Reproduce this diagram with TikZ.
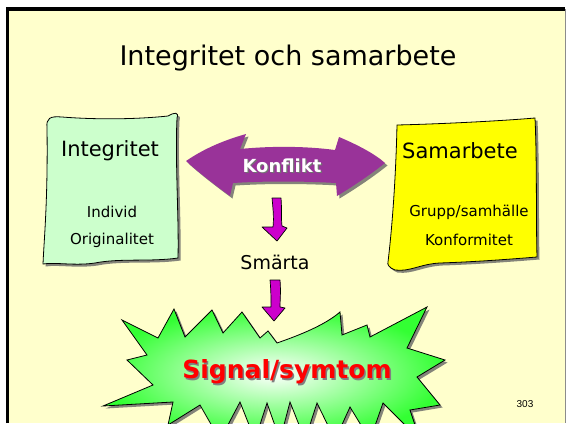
\documentclass[tikz,border=0pt]{standalone}
\usepackage{fontspec}
\setmainfont{DejaVu Sans}
\newfontfamily\pagefont{Liberation Sans}
\usetikzlibrary{positioning,shadows}

\definecolor{cream}{HTML}{FFFFCC}
\definecolor{mint}{HTML}{CCFFCC}
\definecolor{lemon}{HTML}{FFFF00}
\definecolor{plum}{HTML}{993399}
\definecolor{arrowpink}{HTML}{CC00CC}
\definecolor{burst}{HTML}{33FF33}

\begin{document}
\begin{tikzpicture}[x=1pt,y=-1pt,every node/.style={inner sep=0pt},
		paper/.style={draw=black,line width=0.8pt,drop shadow={shadow xshift=2.5pt,shadow yshift=-2.5pt,fill=black!60,opacity=0.8}},
		downarrow/.style={draw=black,line width=0.7pt,fill=arrowpink,line join=round},
		boxhead/.style={font=\fontsize{21}{24}\selectfont},
		boxtext/.style={font=\fontsize{15}{18}\selectfont}]

		%background
		\useasboundingbox (0,0) rectangle (567,423);
		\fill[white] (0,0) rectangle (567,423);
		\fill[cream] (7,9) rectangle (565,423);
		\draw[line width=3.5pt] (7.5,423) -- (7.5,9) -- (565,9);
		\draw[black!45,line width=0.8pt] (565.6,9) -- (565.6,423);

		%title
		\node (title) at (288,58) {\fontsize{27}{30}\selectfont Integritet och samarbete};

		%left box
		\draw[paper,fill=mint] (47,128) .. controls (46,118) and (50,116) .. (62,117)
			.. controls (100,120) and (140,119) .. (168,116)
			.. controls (175,112) and (179,112) .. (177,118)
			.. controls (175,160) and (179,220) .. (178,258)
			.. controls (150,262) and (120,258) .. (95,263)
			.. controls (75,266) and (55,262) .. (43,264)
			.. controls (44,240) and (48,200) .. (47,128) -- cycle;
		\node[boxhead] (integritet) at (110,151) {Integritet};
		\node[boxtext] (individ) at (112,212) {Individ};
		\node[boxtext] (original) at (112,240) {Originalitet};

		%right box
		\draw[paper,fill=lemon] (397,125) .. controls (440,124) and (500,121) .. (535,118)
			.. controls (537,160) and (536,220) .. (537,257)
			.. controls (500,260) and (470,262) .. (440,263)
			.. controls (420,264) and (410,272) .. (395,270)
			.. controls (389,268) and (387,264) .. (388,262)
			.. controls (393,220) and (396,170) .. (397,125) -- cycle;
		\node[boxhead] (samarbete) at (460,151) {Samarbete};
		\node[boxtext] (grupp) at (469,212) {Grupp/samhälle};
		\node[boxtext] (konform) at (469,240) {Konformitet};

		%double arrow
		\fill[plum,drop shadow={shadow xshift=2.5pt,shadow yshift=-2.5pt,fill=black!60,opacity=0.8}]
			(186,161) .. controls (205,148) and (225,140) .. (246,134)
			-- (240,149) .. controls (270,146) and (305,146) .. (335,150)
			-- (339,137) .. controls (358,145) and (375,154) .. (385,163)
			.. controls (370,175) and (352,187) .. (337,196)
			-- (336,183) .. controls (300,181) and (265,181) .. (233,183)
			-- (230,196) .. controls (215,185) and (198,172) .. (186,161) -- cycle;
		\node[text=black!55,font=\bfseries\fontsize{18}{20}\selectfont] (konfliktshadow) at (283.2,167.2) {Konflikt};
		\node[text=white,font=\bfseries\fontsize{18}{20}\selectfont] (konflikt) at (282,166) {Konflikt};

		%middle
		\node[font=\fontsize{19}{22}\selectfont] (smarta) at (275,262) {Smärta};
		\draw[downarrow] (272,198) -- (281,198) .. controls (282,210) and (281,218) .. (282,226)
			-- (287,228) -- (277,241) -- (262,227) -- (273,227)
			.. controls (274,218) and (273,208) .. (272,198) -- cycle;
		\draw[downarrow] (270,280) -- (280,280) .. controls (281,292) and (280,300) .. (280,307)
			-- (285,308) -- (274,321) -- (262,307) -- (271,307)
			.. controls (271,298) and (271,290) .. (270,280) -- cycle;

		%burst
		\shade[draw=black,line width=0.8pt,inner color=white,outer color=burst,
			drop shadow={shadow xshift=2.5pt,shadow yshift=-2.5pt,fill=black!60,opacity=0.8}]
			(122,320) -- (158,338) -- (174,309) -- (185,337) -- (212,310) -- (223,333)
			-- (242,312) -- (260,338) -- (268,331) -- (277,343)
			.. controls (300,335) and (325,325) .. (340,312)
			-- (342,335) -- (367,325) -- (370,337) -- (427,307) -- (407,348)
			-- (445,360) -- (417,377) -- (440,405) -- (410,410) -- (420,440)
			-- (383,403) -- (370,440) -- (350,407) -- (335,440) -- (317,403)
			-- (305,440) -- (290,402) -- (280,440) -- (267,403) -- (255,440)
			-- (240,402) -- (220,440) -- (200,405) -- (168,425) -- (173,402)
			-- (103,406) -- (153,385) -- (127,360) -- (147,355) -- cycle;
		\node[text=black!50,font=\bfseries\fontsize{25}{28}\selectfont] (signalshadow) at (288.5,373.5) {Signal/symtom};
		\node[text=red,font=\bfseries\fontsize{25}{28}\selectfont] (signal) at (287,372) {Signal/symtom};

		%page number
		\node[font=\pagefont\fontsize{10}{12}\selectfont] (page) at (525,404) {303};

\end{tikzpicture}
\end{document}
